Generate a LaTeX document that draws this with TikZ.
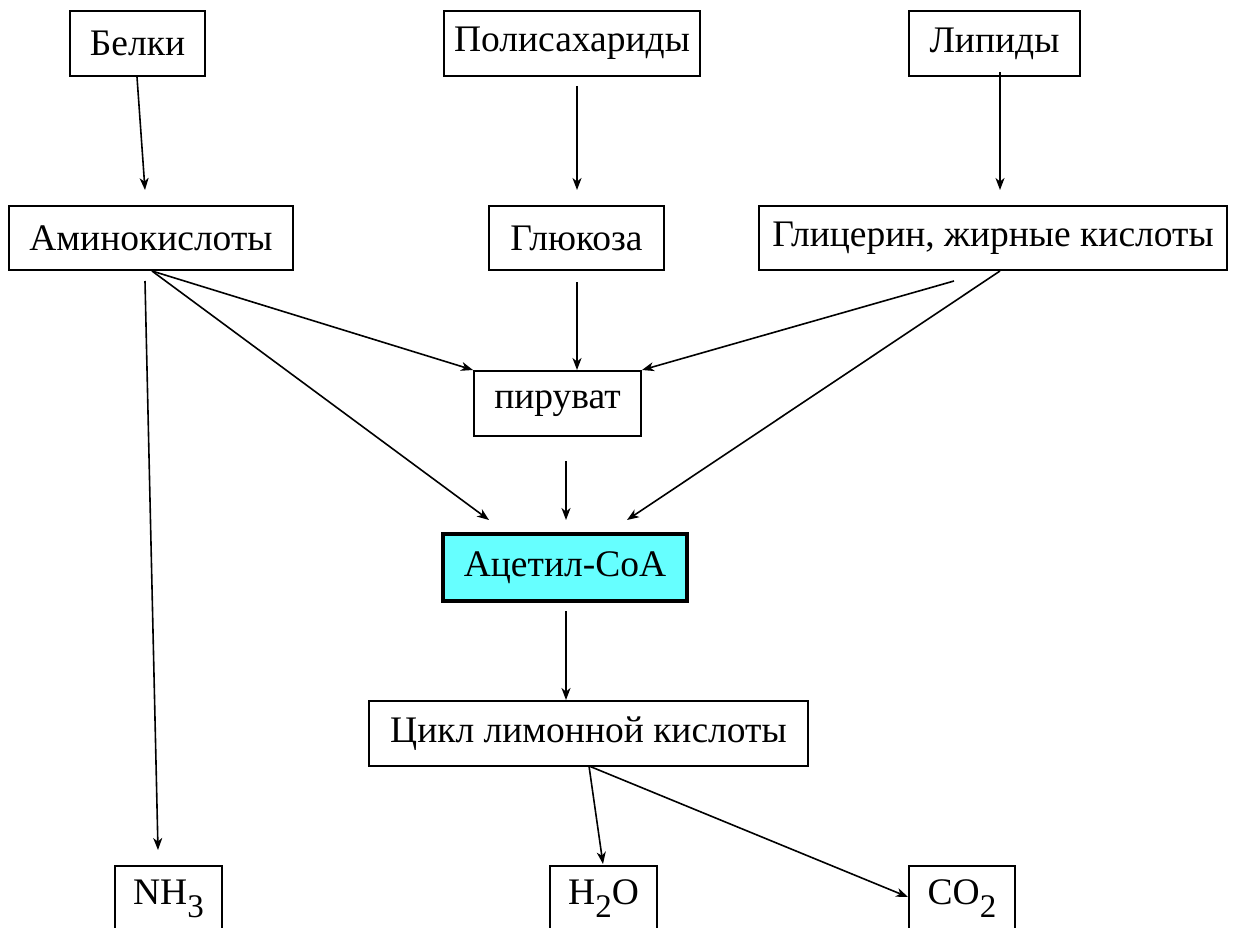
\documentclass[tikz,border=0pt]{standalone}
\usepackage{fontspec}
\setmainfont{Liberation Serif}
\usetikzlibrary{arrows.meta}
\definecolor{acycan}{HTML}{66FFFF}
\tikzset{
  box/.style={draw=black, line width=1.6pt, inner sep=0pt, minimum height=65pt, font=\fontsize{37.5}{40}\selectfont, text=black},
  mainbox/.style={box, line width=3.8pt, fill=acycan},
  arr/.style={line width=1.6pt, -{Stealth[length=12pt,width=9pt,inset=3.5pt]}}
}
\newcommand{\mysub}[1]{\raisebox{-13pt}{\fontsize{33}{33}\selectfont #1}}
\begin{document}
\begin{tikzpicture}[x=1pt,y=-1pt]
\useasboundingbox (0,0) rectangle (1233,928);
% nodes
\node[box, minimum width=135pt] (belki) at (137.5,43.5) {Белки};
\node[box, minimum width=256pt] (poly) at (572,43.5) {Полисахариды};
\node[box, minimum width=171pt] (lipid) at (994.5,43.5) {Липиды};
\node[box, minimum width=284pt, minimum height=64pt] (amino) at (151,238) {Аминокислоты};
\node[box, minimum width=175pt, minimum height=64pt] (gluc) at (576.5,238) {Глюкоза};
\node[box, minimum width=468pt, minimum height=64pt] (glyc) at (993,238) {Глицерин, жирные кислоты};
\node[box, minimum width=167pt] (pyr) at (557.5,403.5) {пируват};
\node[mainbox, minimum width=244pt, minimum height=67pt] (acet) at (565,567.5) {Ацетил-CoA};
\node[box, minimum width=439pt] (cycle) at (588.5,733.5) {Цикл лимонной кислоты};
\node[box, minimum width=107pt] (nh3) at (168.5,898.5) {NH\mysub{3}};
\node[box, minimum width=107pt] (h2o) at (603.5,898.5) {H\mysub{2}O};
\node[box, minimum width=106pt] (co2) at (962,898.5) {CO\mysub{2}};
% free arrow ends
\coordinate (b1) at (137,77);   \coordinate (b2) at (145,190);
\coordinate (p1) at (577,86);   \coordinate (p2) at (577,190);
\coordinate (l1) at (1000,72);  \coordinate (l2) at (1000,190);
\coordinate (a0) at (152,271);  \coordinate (ap) at (473,370);  \coordinate (aa) at (489,520);
\coordinate (n1) at (145,281);  \coordinate (n2) at (158,850);
\coordinate (g1) at (577,282);  \coordinate (g2) at (577,370);
\coordinate (y1) at (954,281);  \coordinate (yp) at (642,370);
\coordinate (y2) at (1000,271); \coordinate (ya) at (627,520);
\coordinate (r1) at (566,461);  \coordinate (r2) at (566,520);
\coordinate (c1) at (566,611);  \coordinate (c2) at (566,700);
\coordinate (z0) at (589,766);  \coordinate (zh) at (603,864);  \coordinate (zc) at (908,897);
% connectors
\draw[arr] (b1) -- (b2);
\draw[arr] (p1) -- (p2);
\draw[arr] (l1) -- (l2);
\draw[arr] (a0) -- (ap);
\draw[arr] (a0) -- (aa);
\draw[arr] (n1) -- (n2);
\draw[arr] (g1) -- (g2);
\draw[arr] (y1) -- (yp);
\draw[arr] (y2) -- (ya);
\draw[arr] (r1) -- (r2);
\draw[arr] (c1) -- (c2);
\draw[arr] (z0) -- (zh);
\draw[arr] (z0) -- (zc);
\end{tikzpicture}
\end{document}
